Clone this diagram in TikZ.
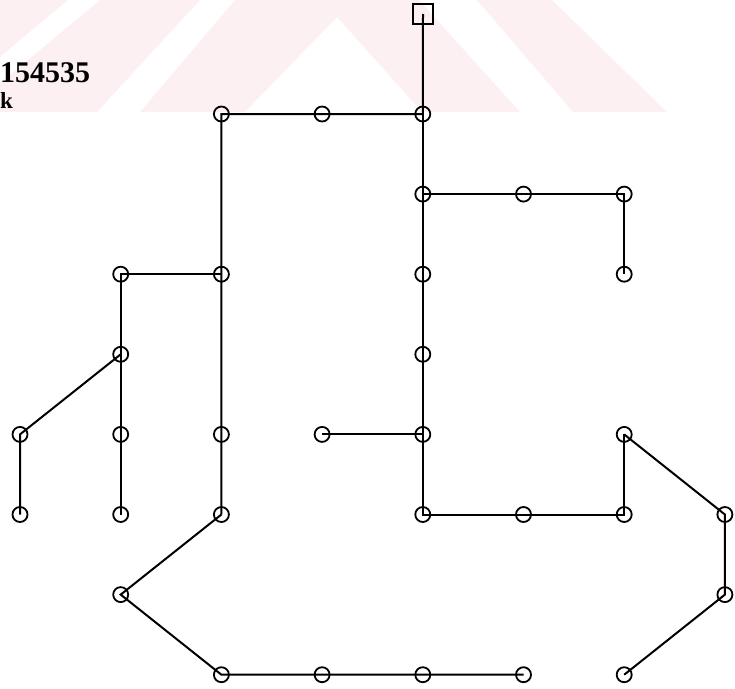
\documentclass[tikz,border=0pt]{standalone}
\usepackage{fontspec}
\setmainfont{Liberation Serif}
\definecolor{wmk}{RGB}{253,240,243}
\colorlet{lnk}{black}
\tikzset{
    vtx/.style={lnk,draw,circle,line width=1.8pt,inner sep=0pt,minimum size=15pt},
    src/.style={lnk,draw,rectangle,line width=1.7pt,inner sep=0pt,minimum size=20pt},
    tree/.style={lnk,line width=2pt}
}
\begin{document}
\begin{tikzpicture}[x=1pt,y=-1pt]
    \useasboundingbox (0,0) rectangle (735,688);
    \fill [wmk] (0,0) -- (68,0) -- (0,57) -- cycle;
    \fill [wmk] (100,0) -- (200,0) -- (97,112) -- (0,112) -- (0,83) -- cycle;
    \fill [wmk] (235,0) -- (419,0) -- (520,112) -- (422,112)
        -- (337,17) -- (245,112) -- (140,112) -- cycle;
    \fill [wmk] (477,0) -- (552,0) -- (667,112) -- (573,112) -- cycle;
    \node [anchor=base west,inner sep=0pt,font=\fontsize{30}{36}\selectfont\bfseries]
        (seed) at (0,82) {154535};
    \node [anchor=base west,inner sep=0pt,font=\fontsize{23}{28}\selectfont\bfseries]
        (tag) at (0,108) {k};
    \foreach \i/\j in {2/0,3/0,4/0, 4/1,5/1,6/1, 1/2,2/2,4/2,6/2, 1/3,4/3,
            0/4,1/4,2/4,3/4,4/4,6/4, 0/5,1/5,2/5,4/5,5/5,6/5,7/5, 1/6,7/6,
            2/7,3/7,4/7,5/7,6/7} {
        \coordinate (n\i\j) at ({20+100.7*\i},{114+80.1*\j});
    }
    \node [src] (root) at (423,14) {};
    \draw [tree] (root.center) -- (n40) -- (n30) -- (n20) -- (n22) -- (n24) -- (n25);
    \draw [tree] (n22) -- (n12) -- (n13) -- (n14) -- (n15);
    \draw [tree] (n13) -- (n04) -- (n05);
    \draw [tree] (n25) -- (n16) -- (n27) -- (n37) -- (n47) -- (n57);
    \draw [tree] (n40) -- (n41) -- (n42) -- (n43) -- (n44) -- (n45)
        -- (n55) -- (n65) -- (n64);
    \draw [tree] (n41) -- (n51) -- (n61) -- (n62);
    \draw [tree] (n34) -- (n44);
    \draw [tree] (n64) -- (n75) -- (n76) -- (n67);
    \foreach \p in {20,30,40,41,51,61,12,22,42,62,13,43,04,14,24,34,44,64,
            05,15,25,45,55,65,75,16,76,27,37,47,57,67} {
        \node [vtx] (v\p) at (n\p) {};
    }
\end{tikzpicture}
\end{document}
